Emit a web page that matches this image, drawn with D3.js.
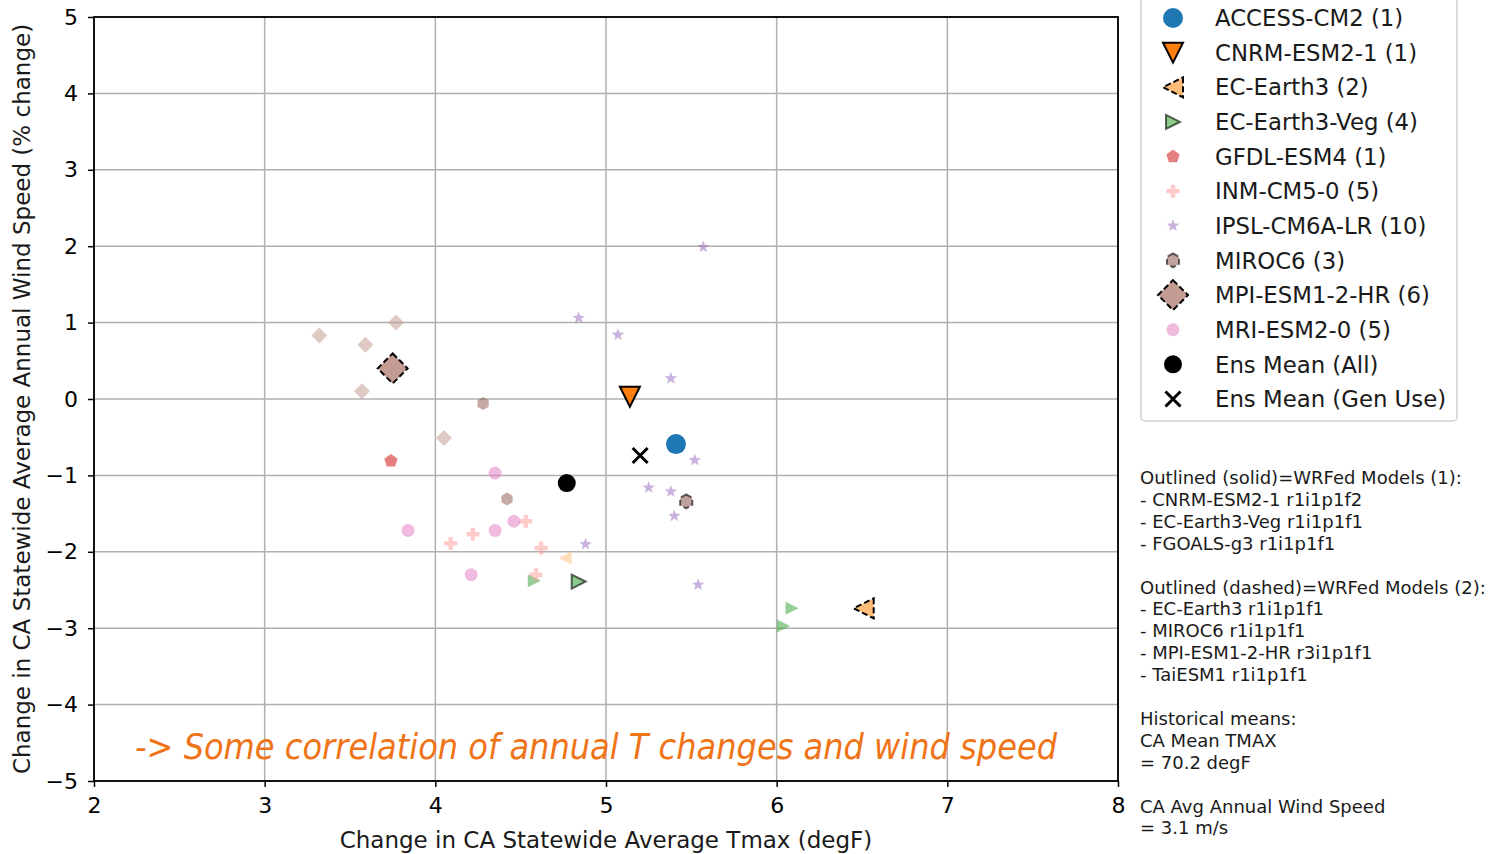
<!DOCTYPE html>
<html>
<head>
<meta charset="utf-8">
<script src="https://cdn.jsdelivr.net/npm/d3@7"></script>
<style>
  body { margin: 0; background: #fff; }
  svg text { font-family: "DejaVu Sans", sans-serif; }
</style>
</head>
<body>
<div id="chart"></div>
<script>
// ---- data: [change in Tmax (degF), change in wind speed (%)] per member ----
const accessCM2 = [[5.41, -0.59]];
const cnrmESM21 = [[5.14, 0.03]];
const ecEarth3 = [[6.51, -2.74], [4.76, -2.08]];
const ecEarth3Veg = [[4.58, -2.38], [4.84, -2.39], [6.09, -2.74], [6.04, -2.97]];
const gfdlESM4 = [[3.74, -0.81]];
const inmCM50 = [[4.09, -1.89], [4.22, -1.77], [4.53, -1.6], [4.62, -1.95], [4.59, -2.3]];
const ipslCM6ALR = [[5.57, 1.99], [4.84, 1.06], [5.07, 0.84], [5.38, 0.27], [5.52, -0.8],
  [5.25, -1.16], [5.38, -1.21], [5.4, -1.53], [4.88, -1.9], [5.54, -2.43]];
const miroc6 = [[5.47, -1.34], [4.28, -0.06], [4.42, -1.31]];
const mpiESM12HR = [[3.75, 0.4], [3.32, 0.83], [3.59, 0.71], [3.77, 1.0], [3.57, 0.1], [4.05, -0.51]];
const mriESM20 = [[4.35, -0.97], [3.84, -1.72], [4.35, -1.72], [4.46, -1.6], [4.21, -2.3]];
const ensMeanAll = [4.77, -1.1];
const ensMeanGenUse = [5.2, -0.74];

const modelNames = ["ACCESS-CM2", "CNRM-ESM2-1", "EC-Earth3", "EC-Earth3-Veg", "GFDL-ESM4",
  "INM-CM5-0", "IPSL-CM6A-LR", "MIROC6", "MPI-ESM1-2-HR", "MRI-ESM2-0"];
const modelPoints = [accessCM2, cnrmESM21, ecEarth3, ecEarth3Veg, gfdlESM4,
  inmCM50, ipslCM6ALR, miroc6, mpiESM12HR, mriESM20];

// WRFed members: [model, member index]
const wrfSolid = [["CNRM-ESM2-1", 0], ["EC-Earth3-Veg", 1]];
const wrfDashed = [["EC-Earth3", 0], ["MIROC6", 0], ["MPI-ESM1-2-HR", 0]];

const xTicks = [2, 3, 4, 5, 6, 7, 8];
const yTicks = [-5, -4, -3, -2, -1, 0, 1, 2, 3, 4, 5];

const noteLines = [
  "Outlined (solid)=WRFed Models (1):",
  "- CNRM-ESM2-1 r1i1p1f2",
  "- EC-Earth3-Veg r1i1p1f1",
  "- FGOALS-g3 r1i1p1f1",
  "",
  "Outlined (dashed)=WRFed Models (2):",
  "- EC-Earth3 r1i1p1f1",
  "- MIROC6 r1i1p1f1",
  "- MPI-ESM1-2-HR r3i1p1f1",
  "- TaiESM1 r1i1p1f1",
  "",
  "Historical means:",
  "CA Mean TMAX",
  "= 70.2 degF",
  "",
  "CA Avg Annual Wind Speed",
  "= 3.1 m/s"
];

// ---- marker shapes (unit coords, scaled by half-size) ----
function polyType(pts) {
  return {
    draw(ctx, size) {
      const r = Math.sqrt(size) / 2;
      pts.forEach((p, i) => (i ? ctx.lineTo(p[0] * r, p[1] * r) : ctx.moveTo(p[0] * r, p[1] * r)));
      ctx.closePath();
    }
  };
}
function regular(n, rot, inner) {
  const pts = [];
  const k = inner ? n * 2 : n;
  for (let i = 0; i < k; i++) {
    const a = rot + (i * 2 * Math.PI) / k;
    const rr = inner && i % 2 ? inner : 1;
    pts.push([rr * Math.cos(a), rr * Math.sin(a)]);
  }
  return pts;
}
const circleType = { draw(ctx, size) { const r = Math.sqrt(size) / 2; ctx.moveTo(r, 0); ctx.arc(0, 0, r, 0, 2 * Math.PI); } };
const xType = { draw(ctx, size) { const r = Math.sqrt(size) / 2; ctx.moveTo(-r, -r); ctx.lineTo(r, r); ctx.moveTo(-r, r); ctx.lineTo(r, -r); } };
const t = 1 / 3;
const shapes = {
  circle: circleType,
  down: polyType([[-1, -1], [1, -1], [0, 1]]),
  left: polyType([[1, -1], [1, 1], [-1, 0]]),
  right: polyType([[-1, -1], [-1, 1], [1, 0]]),
  pentagon: polyType(regular(5, -Math.PI / 2)),
  plus: polyType([[-t, -1], [t, -1], [t, -t], [1, -t], [1, t], [t, t], [t, 1], [-t, 1], [-t, t], [-1, t], [-1, -t], [-t, -t]]),
  star: polyType(regular(5, -Math.PI / 2, 0.42)),
  hexagon: polyType(regular(6, -Math.PI / 2)),
  diamond: polyType([[0, -1], [1, 0], [0, 1], [-1, 0]]),
  x: xType
};

// per-model styling
const styles = {
  "ACCESS-CM2": { shape: "circle", color: "#1f77b4", op: 1, r: 10, wr: 10 },
  "CNRM-ESM2-1": { shape: "down", color: "#ff7f0e", op: 1, r: 10, wr: 10 },
  "EC-Earth3": { shape: "left", color: "#ffbb78", op: 0.5, r: 6.5, wr: 10, wop: 1 },
  "EC-Earth3-Veg": { shape: "right", color: "#2ca02c", op: 0.5, r: 6.5, wr: 7, wop: 0.55 },
  "GFDL-ESM4": { shape: "pentagon", color: "#d62728", op: 0.6, r: 7, wr: 7 },
  "INM-CM5-0": { shape: "plus", color: "#ff9896", op: 0.5, r: 6.5, wr: 6.5 },
  "IPSL-CM6A-LR": { shape: "star", color: "#9467bd", op: 0.5, r: 6.5, wr: 6.5 },
  "MIROC6": { shape: "hexagon", color: "#8c564b", op: 0.5, r: 6.5, wr: 7, wop: 0.55 },
  "MPI-ESM1-2-HR": { shape: "diamond", color: "#c49c94", op: 0.55, r: 8, wr: 15, wop: 1 },
  "MRI-ESM2-0": { shape: "circle", color: "#e377c2", op: 0.5, r: 6.5, wr: 6.5 }
};

// ---- layout ----
const W = 1495, H = 854;
const plot = { left: 94, right: 1118, top: 17, bottom: 781 };

const svg = d3.select("#chart").append("svg").attr("width", W).attr("height", H);

const x = d3.scaleLinear().domain([2, 8]).range([plot.left, plot.right]);
const y = d3.scaleLinear().domain([-5, 5]).range([plot.bottom, plot.top]);

// grid
svg.append("g").selectAll("line").data(xTicks).enter().append("line")
  .attr("x1", (d) => x(d)).attr("x2", (d) => x(d))
  .attr("y1", plot.top).attr("y2", plot.bottom)
  .attr("stroke", "#b0b0b0").attr("stroke-width", 1.5);
svg.append("g").selectAll("line").data(yTicks).enter().append("line")
  .attr("y1", (d) => y(d)).attr("y2", (d) => y(d))
  .attr("x1", plot.left).attr("x2", plot.right)
  .attr("stroke", "#b0b0b0").attr("stroke-width", 1.5);

// axes
const xAxis = svg.append("g").attr("transform", `translate(0,${plot.bottom})`)
  .call(d3.axisBottom(x).tickValues(xTicks).tickSize(6).tickPadding(10).tickFormat(d3.format("d")));
const yAxis = svg.append("g").attr("transform", `translate(${plot.left},0)`)
  .call(d3.axisLeft(y).tickValues(yTicks).tickSize(6).tickPadding(10).tickFormat(d3.format("d")));
[xAxis, yAxis].forEach((g) => {
  g.select(".domain").remove();
  g.selectAll(".tick line").attr("stroke", "#000").attr("stroke-width", 1.5);
  g.selectAll(".tick text").attr("font-size", 22).attr("fill", "#000").attr("font-family", "DejaVu Sans");
});

// frame
svg.append("rect")
  .attr("x", plot.left).attr("y", plot.top)
  .attr("width", plot.right - plot.left).attr("height", plot.bottom - plot.top)
  .attr("fill", "none").attr("stroke", "#000").attr("stroke-width", 1.8);

// axis labels
svg.append("text")
  .attr("x", (plot.left + plot.right) / 2).attr("y", 848)
  .attr("text-anchor", "middle").attr("font-size", 23).attr("fill", "#1a1a1a")
  .text("Change in CA Statewide Average Tmax (degF)");
svg.append("text")
  .attr("transform", `translate(30,${(plot.top + plot.bottom) / 2}) rotate(-90)`)
  .attr("text-anchor", "middle").attr("font-size", 23).attr("fill", "#1a1a1a")
  .text("Change in CA Statewide Average Annual Wind Speed (% change)");

// ---- points ----
function isWrf(list, name, i) { return list.some((w) => w[0] === name && w[1] === i); }

function drawMarker(g, name, cx, cy, wrf) {
  const s = styles[name];
  const r = wrf ? s.wr : s.r;
  const op = wrf && s.wop !== undefined ? s.wop : s.op;
  const p = g.append("path")
    .attr("d", d3.symbol().type(shapes[s.shape]).size((2 * r) * (2 * r))())
    .attr("transform", `translate(${cx},${cy})`)
    .attr("fill", s.color).attr("fill-opacity", op);
  if (wrf) {
    p.attr("stroke", "#000").attr("stroke-width", 2).attr("stroke-opacity", Math.max(op, 0.6));
    if (wrf === "dashed") p.attr("stroke-dasharray", "6,3");
  }
  return p;
}

const pointsLayer = svg.append("g").attr("class", "points-layer");
modelNames.forEach((name, m) => {
  modelPoints[m].forEach((d, i) => {
    const wrf = isWrf(wrfSolid, name, i) ? "solid" : isWrf(wrfDashed, name, i) ? "dashed" : null;
    drawMarker(pointsLayer, name, x(d[0]), y(d[1]), wrf);
  });
});

// ensemble means
pointsLayer.append("path")
  .attr("d", d3.symbol().type(circleType).size(18 * 18)())
  .attr("transform", `translate(${x(ensMeanAll[0])},${y(ensMeanAll[1])})`)
  .attr("fill", "#000");
pointsLayer.append("path")
  .attr("d", d3.symbol().type(xType).size(15 * 15)())
  .attr("transform", `translate(${x(ensMeanGenUse[0])},${y(ensMeanGenUse[1])})`)
  .attr("fill", "none").attr("stroke", "#000").attr("stroke-width", 3);

// annotation
svg.append("text")
  .attr("x", 135).attr("y", 759)
  .attr("font-family", "Lato, 'Open Sans', sans-serif").attr("font-style", "italic")
  .attr("font-size", 36).attr("fill", "#ef7317")
  .attr("textLength", 922).attr("lengthAdjust", "spacingAndGlyphs")
  .text("-> Some correlation of annual T changes and wind speed");

// ---- legend ----
const legendLabels = modelNames.map((n, i) => `${n} (${modelPoints[i].length})`)
  .concat(["Ens Mean (All)", "Ens Mean (Gen Use)"]);
const ly = d3.scalePoint().domain(legendLabels).range([18, 399]);

const legend = svg.append("g").attr("class", "legend");
legend.append("rect")
  .attr("x", 1141).attr("y", -4).attr("width", 316).attr("height", 425)
  .attr("rx", 4).attr("ry", 4)
  .attr("fill", "#fff").attr("fill-opacity", 0.8)
  .attr("stroke", "#d0d0d0").attr("stroke-width", 1.5);

modelNames.forEach((name, i) => {
  const wrf = wrfSolid.some((w) => w[0] === name) ? "solid" : wrfDashed.some((w) => w[0] === name) ? "dashed" : null;
  drawMarker(legend, name, 1173, ly(legendLabels[i]), wrf);
});
legend.append("path")
  .attr("d", d3.symbol().type(circleType).size(18 * 18)())
  .attr("transform", `translate(1173,${ly(legendLabels[10])})`)
  .attr("fill", "#000");
legend.append("path")
  .attr("d", d3.symbol().type(xType).size(15 * 15)())
  .attr("transform", `translate(1173,${ly(legendLabels[11])})`)
  .attr("fill", "none").attr("stroke", "#000").attr("stroke-width", 3);

legend.selectAll(".legend-label").data(legendLabels).enter().append("text")
  .attr("class", "legend-label")
  .attr("x", 1215).attr("y", (d) => ly(d))
  .attr("dy", "0.36em")
  .attr("font-size", 22.8).attr("fill", "#1a1a1a")
  .text((d) => d);

// ---- side notes ----
svg.append("g").selectAll("text").data(noteLines).enter().append("text")
  .attr("x", 1140).attr("y", (d, i) => 484 + i * 21.9)
  .attr("font-size", 18).attr("fill", "#1a1a1a")
  .text((d) => d);
</script>
</body>
</html>
